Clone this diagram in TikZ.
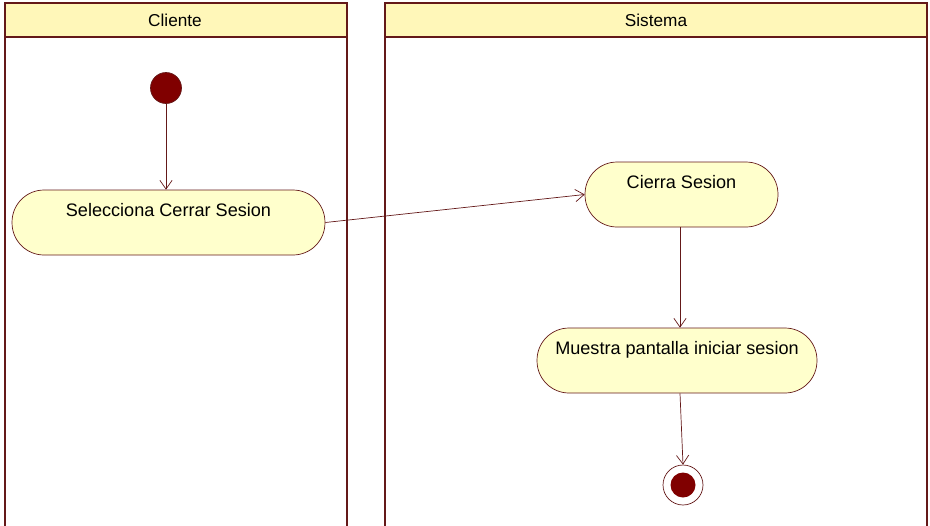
\documentclass[tikz,border=0pt]{standalone}
\usepackage{fontspec}
\setmainfont{Liberation Sans}
\usetikzlibrary{arrows.meta}

\definecolor{borde}{RGB}{100,25,25}
\definecolor{relleno}{RGB}{255,255,204}
\definecolor{cabecera}{RGB}{255,247,185}
\definecolor{punto}{RGB}{128,0,0}

\tikzset{
    accion/.style={rectangle, rounded corners=0.64cm, draw=borde, fill=relleno, inner sep=0pt,
        text height=0.52cm, text depth=0.78cm, font=\fontsize{10.3}{12}\selectfont},
    flecha/.style={draw=borde, -{Straight Barb[length=5pt, width=7pt]}},
}

\begin{document}
\begin{tikzpicture}[x=0.02cm, y=-0.02cm]
        \useasboundingbox (0, 0) rectangle (930, 525);

        % --- Carriles (swimlanes) ---
        \fill[cabecera] (5, 3) rectangle (347, 37);
        \fill[cabecera] (385, 3) rectangle (927, 37);
        \draw[borde, line width=1.6pt] (5, 530) -- (5, 3) -- (347, 3) -- (347, 530);
        \draw[borde, line width=1.6pt] (5, 37) -- (347, 37);
        \draw[borde, line width=1.6pt] (385, 530) -- (385, 3) -- (927, 3) -- (927, 530);
        \draw[borde, line width=1.6pt] (385, 37) -- (927, 37);
        \node[font=\fontsize{9.8}{11}\selectfont] (cliente) at (175, 20) {Cliente};
        \node[font=\fontsize{9.8}{11}\selectfont] (sistema) at (656, 20) {Sistema};

        % --- Nodo inicial ---
        \node[circle, fill=punto, draw=borde, minimum size=0.62cm, inner sep=0pt] (inicio) at (166, 88) {};

        % --- Acciones ---
        \node[accion, minimum width=6.26cm] (selecciona) at (168.5, 222.5) {Selecciona Cerrar Sesion};
        \node[accion, minimum width=3.86cm] (cierra) at (681.5, 194.5) {Cierra Sesion};
        \node[accion, minimum width=5.6cm] (muestra) at (677, 360.5) {Muestra pantalla iniciar sesion};

        % --- Nodo final ---
        \node[circle, draw=borde, fill=white, minimum size=0.8cm, inner sep=0pt] (fin) at (683, 485) {};
        \node[circle, fill=punto, minimum size=0.5cm, inner sep=0pt] (finint) at (fin) {};

        % --- Transiciones ---
        \coordinate (eje) at (680, 0);
        \draw[flecha] (inicio) -- (selecciona.north -| inicio);
        \draw[flecha] (selecciona.east) -- (cierra.west);
        \draw[flecha] (cierra.south -| eje) -- (muestra.north -| eje);
        \draw[flecha] (muestra.south -| eje) -- (fin.north);
    \end{tikzpicture}
\end{document}
